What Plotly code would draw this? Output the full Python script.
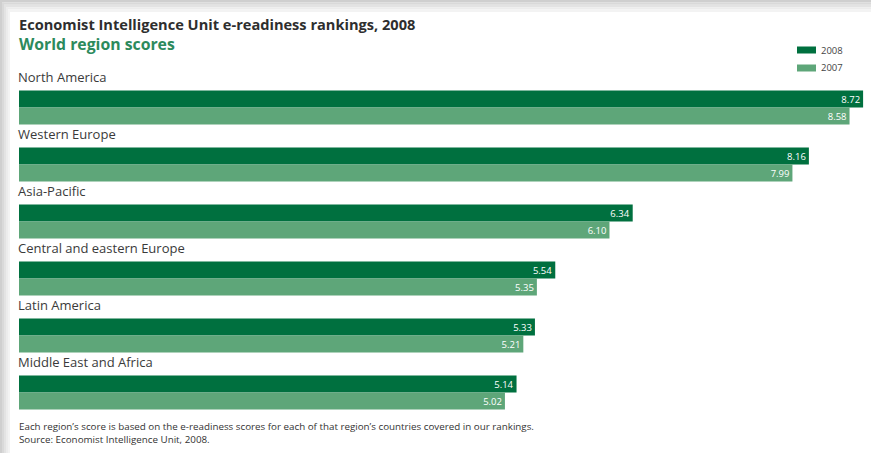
import plotly.graph_objects as go

regions = ["North America", "Western Europe", "Asia-Pacific",
           "Central and eastern Europe", "Latin America", "Middle East and Africa"]
scores_2008 = [8.72, 8.16, 6.34, 5.54, 5.33, 5.14]
scores_2007 = [8.58, 7.99, 6.10, 5.35, 5.21, 5.02]
series_names = ["2008", "2007"]
series_colors = ["#00703f", "#5ea679"]

W, H = 871, 453
ML, MR, MT, MB = 19, 0, 79, 32
PW, PH = W - ML - MR, H - MT - MB
px_per_unit = 96.8
xmax = PW / px_per_unit

fig = go.Figure()
for name, vals, col in zip(series_names, [scores_2008, scores_2007], series_colors):
    fig.add_trace(go.Bar(
        x=vals, y=regions, orientation="h", name=name,
        marker=dict(color=col, line=dict(width=0)),
        text=[f"{v:.2f}" for v in vals], textposition="inside",
        insidetextanchor="end", textangle=0, constraintext="none",
        textfont=dict(color="white", size=9.5, family="Open Sans"),
        showlegend=False, hoverinfo="x+y",
    ))

def px(xp):
    return (xp - ML) / PW

def py(yp):
    return 1 - (yp - MT) / PH

shapes = []
# shadow frame
for i, c in enumerate(["#cfcfcf", "#d9d9d9", "#e3e3e3", "#ececec", "#f3f3f3"]):
    shapes.append(dict(type="rect", xref="paper", yref="paper",
                       x0=px(2 * i), x1=px(2 * i + 2), y0=py(H), y1=py(2.4 * i),
                       fillcolor=c, line=dict(width=0), layer="below"))
    shapes.append(dict(type="rect", xref="paper", yref="paper",
                       x0=px(2 * i), x1=px(W), y0=py(2.4 * i + 2.4), y1=py(2.4 * i),
                       fillcolor=c, line=dict(width=0), layer="below"))

annotations = [
    dict(text="<b>Economist Intelligence Unit e-readiness rankings, 2008</b>",
         x=px(17), y=py(24), xref="paper", yref="paper", xanchor="left", yanchor="middle",
         showarrow=False, font=dict(size=14.6, color="#2e2e2e", family="Open Sans")),
    dict(text="<b>World region scores</b>",
         x=px(17), y=py(44), xref="paper", yref="paper", xanchor="left", yanchor="middle",
         showarrow=False, font=dict(size=15.8, color="#2c8a5c", family="Open Sans")),
    dict(text="Each region’s score is based on the e-readiness scores for each of that region’s countries covered in our rankings.<br>Source: Economist Intelligence Unit, 2008.",
         x=px(17), y=py(433), xref="paper", yref="paper", xanchor="left", yanchor="middle",
         align="left", showarrow=False,
         font=dict(size=9.8, color="#333333", family="Open Sans")),
]

for r in regions:
    annotations.append(dict(text=r, x=0, y=r, xref="x", yref="y", xanchor="left",
                            yanchor="middle", yshift=31, xshift=-3, showarrow=False,
                            font=dict(size=13, color="#3a3a3a", family="Open Sans")))

# legend
for i, (name, col) in enumerate(zip(series_names, series_colors)):
    yc = 50 + 18 * i
    shapes.append(dict(type="rect", xref="paper", yref="paper",
                       x0=px(797), x1=px(816), y0=py(yc + 3.5), y1=py(yc - 3.5),
                       fillcolor=col, line=dict(width=0)))
    annotations.append(dict(text=name, x=px(819), y=py(yc), xref="paper", yref="paper",
                            xanchor="left", yanchor="middle", showarrow=False,
                            font=dict(size=9.5, color="#444444", family="Open Sans")))

n = len(regions)
fig.update_layout(
    width=W, height=H,
    margin=dict(l=ML, r=MR, t=MT, b=MB, pad=0),
    paper_bgcolor="white", plot_bgcolor="white",
    barmode="group", bargap=0.4035, bargroupgap=0,
    xaxis=dict(range=[0, xmax], visible=False, fixedrange=True),
    yaxis=dict(type="category", categoryorder="array", categoryarray=regions,
               range=[n - 0.5, -0.5], autorange=False, visible=False, fixedrange=True),
    shapes=shapes, annotations=annotations,
    font=dict(family="Open Sans"),
)

fig.write_html("out.html")
